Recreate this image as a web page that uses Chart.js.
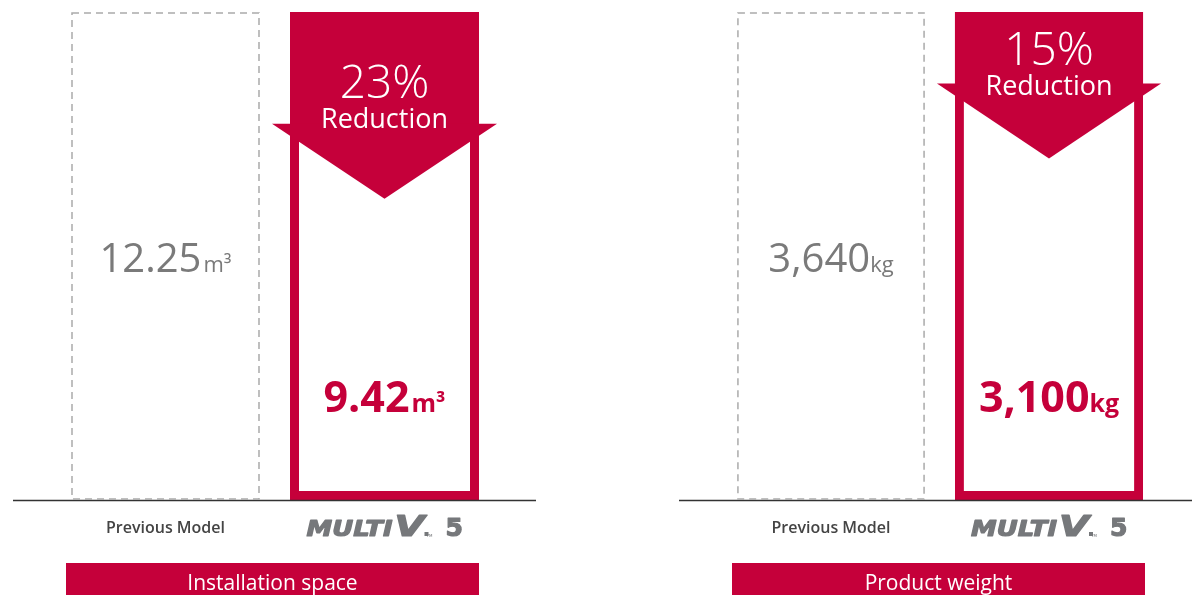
<!DOCTYPE html>
<html>
<head>
<meta charset="utf-8">
<script src="https://cdn.jsdelivr.net/npm/chart.js@4"></script>
<style>
  html, body { margin: 0; padding: 0; background: #fff; }
  .panel { position: absolute; top: 0; width: 596px; height: 595px; }
</style>
</head>
<body>
<div class="panel" style="left:0"><canvas id="spaceChart" width="596" height="595"></canvas></div>
<div class="panel" style="left:596px"><canvas id="weightChart" width="596" height="595"></canvas></div>
<script>
// data
const categories = ['Previous Model', 'MULTI V 5'];
const spaceValues = [12.25, 9.42];
const weightValues = [3640, 3100];
const spaceText = ['12.25', '9.42'];
const weightText = ['3,640', '3,100'];
const units = ['m³', 'kg'];
const reductionText = ['23%', '15%'];
const panelTitles = ['Installation space', 'Product weight'];

const RED = '#c5003a';
const FONT = '"Open Sans", "Noto Sans", sans-serif';

function drawValue(ctx, main, unit, cx, y, mainFont, unitFont, color, gap) {
    ctx.font = mainFont;
    const w1 = ctx.measureText(main).width;
    ctx.font = unitFont;
    const w2 = ctx.measureText(unit).width;
    const x0 = cx - (w1 + w2 + gap) / 2;
    ctx.fillStyle = color;
    ctx.textAlign = 'left';
    ctx.textBaseline = 'alphabetic';
    ctx.font = mainFont;
    ctx.fillText(main, x0, y);
    ctx.font = unitFont;
    ctx.fillText(unit, x0 + w1 + gap, y);
}

// stretched heavy text piece
function wide(ctx, txt, x, y, width) {
    const w = ctx.measureText(txt).width;
    ctx.save();
    ctx.translate(x, y);
    ctx.scale(width / w, 1);
    ctx.fillText(txt, 0, 0);
    ctx.strokeText(txt, 0, 0);
    ctx.restore();
}

function drawLogo(ctx, cx, y) {
    const L = cx - 78;
    ctx.save();
    ctx.fillStyle = '#76787b';
    ctx.strokeStyle = '#76787b';
    ctx.lineWidth = 1.2;
    ctx.lineJoin = 'round';
    ctx.textAlign = 'left';
    ctx.textBaseline = 'alphabetic';
    ctx.font = 'italic bold 22px "DejaVu Sans"';
    wide(ctx, 'MULTI', L, y, 86);
    ctx.font = 'italic bold 28px "DejaVu Sans"';
    wide(ctx, 'V', L + 88, y, 30);
    ctx.fillRect(L + 118, y - 4, 4, 4);
    ctx.font = '4px "DejaVu Sans"';
    ctx.fillText('TM', L + 120, y + 1);
    ctx.font = 'bold 25px "DejaVu Sans"';
    ctx.fillText('5', L + 139, y);
    ctx.strokeText('5', L + 139, y);
    ctx.restore();
}

const decor = {
    id: 'decor',
    afterDatasetsDraw(chart, args, opts) {
        const { ctx, chartArea: a } = chart;
        const i = opts.index;
        const prev = chart.getDatasetMeta(0).data[0];
        const cur = chart.getDatasetMeta(0).data[1];
        const texts = i === 0 ? spaceText : weightText;
        const gap = i === 0 ? 2 : 0;
        ctx.save();

        // baseline
        ctx.strokeStyle = '#333';
        ctx.lineWidth = 1.5;
        ctx.beginPath();
        ctx.moveTo(a.left - 43, a.bottom + 0.5);
        ctx.lineTo(a.right + 42, a.bottom + 0.5);
        ctx.stroke();

        // dashed previous model box
        ctx.setLineDash([7, 5]);
        ctx.strokeStyle = '#aaaaaa';
        ctx.lineWidth = 1.5;
        ctx.strokeRect(prev.x - prev.width / 2 + 1, prev.y + 1, prev.width - 2, prev.base - prev.y - 2);
        ctx.setLineDash([]);

        // arrow head under the reduction block
        const wingY = cur.y;
        const cl = cur.x - cur.width / 2, cr = cur.x + cur.width / 2;
        ctx.fillStyle = RED;
        ctx.beginPath();
        ctx.moveTo(cl - 18, wingY - 1);
        ctx.lineTo(cr + 18, wingY - 1);
        ctx.lineTo(cur.x, wingY + 74);
        ctx.closePath();
        ctx.fill();

        // arrow text
        ctx.fillStyle = '#fff';
        ctx.textAlign = 'center';
        ctx.textBaseline = 'alphabetic';
        ctx.font = '300 46px ' + FONT;
        ctx.fillText(reductionText[i], cur.x, opts.pctY);
        ctx.font = '27px ' + FONT;
        ctx.fillText('Reduction', cur.x, opts.pctY + 30);

        // values
        drawValue(ctx, texts[0], units[i], prev.x, (prev.y + prev.base) / 2 + 16,
            '40px ' + FONT, '22px ' + FONT, '#7a7a7a', gap);
        drawValue(ctx, texts[1], units[i], cur.x, a.bottom - 88,
            'bold 43px ' + FONT, 'bold 25px ' + FONT, RED, gap);

        // category labels
        ctx.fillStyle = '#444';
        ctx.textAlign = 'center';
        ctx.font = '600 16px ' + FONT;
        ctx.fillText(categories[0], prev.x, a.bottom + 33);
        drawLogo(ctx, cur.x, a.bottom + 36);

        // title band
        const bx = a.left + 10;
        ctx.fillStyle = RED;
        ctx.fillRect(bx, 563, 413, 40);
        ctx.fillStyle = '#fff';
        ctx.font = '21px ' + FONT;
        ctx.textAlign = 'center';
        ctx.fillText(panelTitles[i], bx + 206.5, 590);

        ctx.restore();
    }
};

function makeChart(el, values, index, pad, pctY) {
    const reduction = values.map((v, k) => k === 0 ? 0 : values[0] - v);
    return new Chart(el, {
        type: 'bar',
        data: {
            labels: categories,
            datasets: [{
                label: 'Value',
                data: values,
                backgroundColor: ['rgba(0,0,0,0)', '#ffffff'],
                borderColor: ['rgba(0,0,0,0)', RED],
                borderWidth: [0, 9],
                borderSkipped: false,
                barPercentage: 0.863,
                categoryPercentage: 1
            }, {
                label: 'Reduction',
                data: reduction,
                backgroundColor: RED,
                borderWidth: 0,
                barPercentage: 0.863,
                categoryPercentage: 1
            }]
        },
        options: {
            responsive: false,
            animation: false,
            devicePixelRatio: 1,
            layout: { padding: { top: 12, bottom: 95, left: pad[0], right: pad[1] } },
            plugins: {
                legend: { display: false },
                tooltip: { enabled: false },
                decor: { index: index, pctY: pctY }
            },
            scales: {
                x: { stacked: true, display: false },
                y: { stacked: true, display: false, min: 0, max: values[0] }
            }
        },
        plugins: [decor]
    });
}

makeChart(document.getElementById('spaceChart'), spaceValues, 0, [56, 102], 98);
makeChart(document.getElementById('weightChart'), weightValues, 1, [126, 34], 65);
</script>
</body>
</html>
